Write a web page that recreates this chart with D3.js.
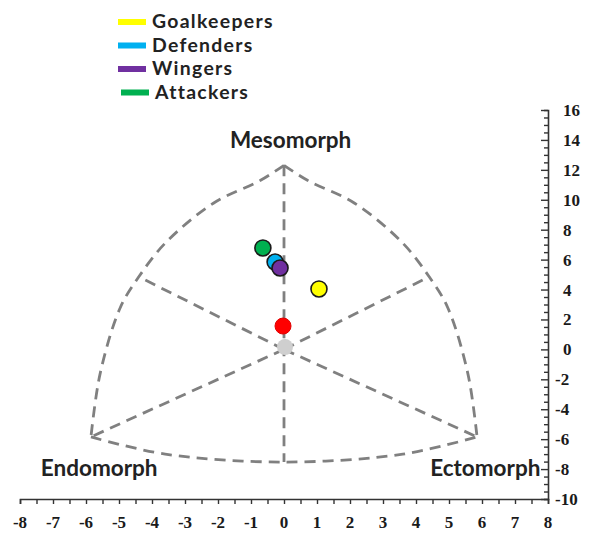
<!DOCTYPE html>
<html><head><meta charset="utf-8">
<script src="https://cdn.jsdelivr.net/npm/d3@7"></script>
<style>body{margin:0;background:#fff}svg{display:block}</style>
</head><body>
<svg id="c" width="591" height="534"></svg>
<script>
// ---- data ----
const groups = ["Goalkeepers", "Defenders", "Wingers", "Attackers"];
const groupColors = ["#ffff00", "#00b0f0", "#7030a0", "#00b050"];
const groupX = [1.06, -0.27, -0.12, -0.64];
const groupY = [4.04, 5.84, 5.44, 6.78];
// unlabelled markers: origin (grey) and reference (red)
const extraX = [0.03, -0.03];
const extraY = [0.16, 1.56];
const extraColors = ["#cfcfcf", "#ff0000"];
const drawOrder = [0, 3, 1, 2]; // goalkeepers, attackers, defenders, wingers
const xTicks = d3.range(-8, 8.01, 1);
const yTicks = d3.range(-10, 16.01, 2);
// somatochart outline (data coordinates)
const sideArcX = [0, 0.71, 2.14, 3.6, 4.4, 4.96, 5.57, 5.85];
const sideArcY = [12.3, 11.3, 9.77, 7.1, 4.85, 2.8, -1.6, -5.85];
const bottomArcX = [-5.85, -3.6, 0, 3.6, 5.85];
const bottomArcY = [-5.85, -7.0, -7.53, -7.0, -5.85];
const axisLabels = ["Mesomorph", "Endomorph", "Ectomorph"];

// ---- scales ----
const svg = d3.select("#c");
const x = d3.scaleLinear().domain([-8, 8]).range([20, 548]);
const y = d3.scaleLinear().domain([-10, 16]).range([499, 110]);

// ---- outline ----
const dashStyle = s => s.attr("fill", "none").attr("stroke", "#808080")
  .attr("stroke-width", 2.8).attr("stroke-dasharray", "11,7");
const line = d3.line().x(d => x(d[0])).y(d => y(d[1])).curve(d3.curveCatmullRom.alpha(0.5));
const right = sideArcX.map((v, i) => [v, sideArcY[i]]);
const left = sideArcX.map((v, i) => [-v, sideArcY[i]]);
svg.append("path").attr("d", line(left)).call(dashStyle);
svg.append("path").attr("d", line(right)).call(dashStyle);
svg.append("path").attr("d", line(bottomArcX.map((v, i) => [v, bottomArcY[i]]))).call(dashStyle);
const straight = d3.line().x(d => x(d[0])).y(d => y(d[1]));
const armEnd = [sideArcX[4], sideArcY[4]];
const corner = [sideArcX[7], sideArcY[7]];
[
  [[0, sideArcY[0]], [0, bottomArcY[2]]],
  [[0, 0], [-armEnd[0], armEnd[1]]],
  [[0, 0], armEnd],
  [[0, 0], [-corner[0], corner[1]]],
  [[0, 0], corner]
].forEach(seg => svg.append("path").attr("d", straight(seg)).call(dashStyle));

// ---- points ----
svg.selectAll("circle.extra").data(extraX).join("circle").attr("class", "extra")
  .attr("cx", d => x(d)).attr("cy", (d, i) => y(extraY[i])).attr("r", 8)
  .attr("fill", (d, i) => extraColors[i])
  .attr("stroke", (d, i) => i === 0 ? "none" : "#e00000").attr("stroke-width", 1);
svg.selectAll("circle.grp").data(drawOrder).join("circle").attr("class", "grp")
  .attr("cx", i => x(groupX[i])).attr("cy", i => y(groupY[i])).attr("r", 8)
  .attr("fill", i => groupColors[i]).attr("stroke", "#1a1a1a").attr("stroke-width", 1.6);

// ---- axes ----
const tickFont = "'Liberation Serif', 'Times New Roman', serif";
const xAxis = svg.append("g").attr("transform", `translate(0,${y(-10)})`)
  .call(d3.axisBottom(x).tickValues(d3.range(-8, 8.01, 0.5)).tickSize(5).tickFormat(""));
const yAxis = svg.append("g").attr("transform", `translate(${x(8)},0)`)
  .call(d3.axisLeft(y).tickValues(d3.range(-10, 16.01, 0.5)).tickSize(4).tickFormat(""));
[xAxis, yAxis].forEach(g => {
  g.select(".domain").attr("stroke", "#333").attr("stroke-width", 1.6);
  g.selectAll(".tick line").attr("stroke", "#333").attr("stroke-width", 1.4);
});
yAxis.selectAll(".tick line").filter(d => d % 2 === 0).attr("x2", -7);
svg.append("g").selectAll("text").data(xTicks).join("text")
  .attr("x", d => x(d)).attr("y", y(-10) + 29).attr("text-anchor", "middle")
  .attr("font-family", tickFont).attr("font-weight", "bold").attr("font-size", 17)
  .attr("fill", "#1a1a1a").text(d => d);
svg.append("g").selectAll("text").data(yTicks).join("text")
  .attr("x", d => d < 0 ? x(8) + 7 : x(8) + 15).attr("y", d => y(d) + 6)
  .attr("font-family", tickFont).attr("font-weight", "bold").attr("font-size", 17)
  .attr("fill", "#1a1a1a").text(d => d);

// ---- vertex labels ----
const lblFont = "Lato, 'Open Sans', sans-serif";
const lblPos = [[0.2, 12.3], [-5.6, -5.85], [6.1, -5.85]];
svg.append("g").selectAll("text").data(axisLabels).join("text")
  .attr("x", (d, i) => x(lblPos[i][0]))
  .attr("y", (d, i) => y(lblPos[i][1]) + (i === 0 ? -17 : 39))
  .attr("text-anchor", "middle")
  .attr("font-family", lblFont).attr("font-weight", "bold").attr("font-size", 22.5)
  .attr("fill", "#222").text(d => d);

// ---- legend ----
const lg = svg.append("g");
groups.forEach((g, i) => {
  const yy = 22 + i * 23.5;
  lg.append("rect").attr("x", 118 + (i === 3 ? 3 : 0)).attr("y", yy - 3)
    .attr("width", 28).attr("height", 6).attr("fill", groupColors[i]);
  lg.append("text").attr("x", 152 + (i === 3 ? 3 : 0)).attr("y", yy + 6)
    .attr("font-family", lblFont).attr("font-weight", "bold").attr("font-size", 19.4)
    .attr("letter-spacing", 1.3).attr("fill", "#222").text(g);
});
</script>
</body></html>
